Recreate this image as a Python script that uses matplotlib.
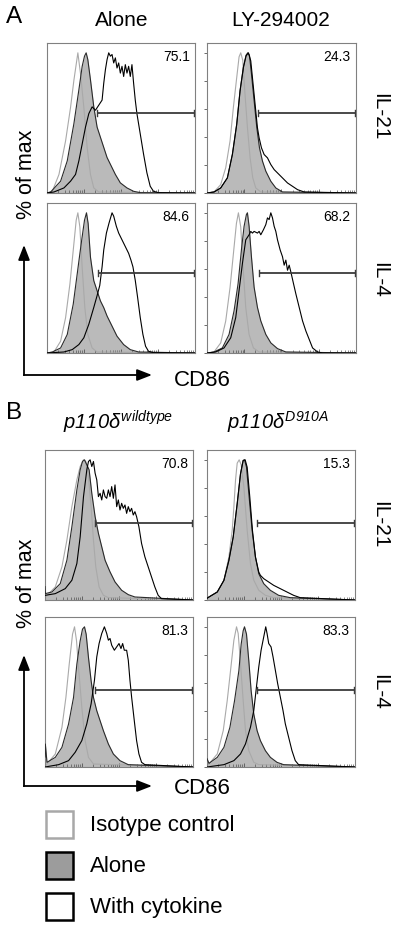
import numpy as np
import matplotlib
matplotlib.use("Agg")
import matplotlib.pyplot as plt
from matplotlib.patches import Rectangle

plt.rcParams['font.family'] = ['Liberation Sans', 'DejaVu Sans']
plt.rcParams['mathtext.fontset'] = 'custom'
plt.rcParams['mathtext.it'] = 'Liberation Sans:italic'
plt.rcParams['mathtext.rm'] = 'Liberation Sans:italic'

# ---------------- data (CD86 channel, event counts) ----------------
# Panel A, column "Alone", row IL-21
A_alone_IL21_iso_x = [0, 16, 36, 56, 71, 81, 93, 101, 111, 121, 131, 141, 156, 446]
A_alone_IL21_iso_y = [0, 5, 55, 155, 255, 335, 417, 355, 255, 135, 55, 15, 3, 0]
A_alone_IL21_alone_x = [0, 11, 41, 61, 81, 96, 106, 113, 118, 123, 131, 141, 151, 161, 171, 181, 191, 206, 221, 241, 261, 281, 446]
A_alone_IL21_alone_y = [0, 3, 35, 95, 205, 305, 375, 405, 415, 395, 335, 255, 195, 165, 135, 105, 85, 55, 30, 15, 5, 1, 0]
A_alone_IL21_cyto_x = [0, 21, 51, 71, 86, 96, 106, 116, 126, 136, 146, 156, 166, 171, 176, 181, 186, 191, 196, 201, 206, 211, 216, 221, 226, 231, 236, 241, 246, 251, 256, 261, 266, 271, 281, 291, 301, 311, 321, 336, 446]
A_alone_IL21_cyto_y = [0, 3, 15, 35, 55, 95, 145, 195, 235, 255, 245, 260, 275, 325, 365, 395, 415, 405, 410, 385, 400, 370, 385, 355, 375, 345, 380, 355, 375, 345, 380, 325, 275, 235, 175, 115, 60, 20, 5, 1, 0]

# Panel A, column "LY-294002", row IL-21
A_LY_IL21_iso_x = [0, 21, 41, 56, 69, 79, 88, 96, 101, 107, 113, 121, 129, 137, 146, 161, 446]
A_LY_IL21_iso_y = [0, 3, 25, 75, 155, 255, 335, 405, 417, 395, 305, 195, 105, 45, 15, 3, 0]
A_LY_IL21_alone_x = [0, 21, 41, 61, 76, 89, 99, 109, 117, 122, 127, 133, 141, 149, 157, 166, 176, 191, 206, 226, 446]
A_LY_IL21_alone_y = [0, 3, 15, 45, 115, 205, 305, 375, 410, 417, 410, 355, 275, 195, 135, 95, 65, 35, 15, 3, 0]
A_LY_IL21_cyto_x = [0, 21, 41, 61, 76, 89, 99, 109, 117, 124, 131, 139, 146, 151, 156, 163, 171, 181, 191, 201, 211, 226, 241, 256, 271, 291, 446]
A_LY_IL21_cyto_y = [0, 3, 15, 45, 115, 205, 305, 375, 410, 419, 395, 315, 245, 195, 165, 135, 115, 105, 85, 70, 60, 45, 30, 20, 10, 3, 0]

# Panel A, column "Alone", row IL-4
A_alone_IL4_iso_x = [0, 21, 41, 56, 69, 79, 88, 93, 99, 106, 114, 123, 136, 151, 446]
A_alone_IL4_iso_y = [0, 3, 35, 105, 205, 305, 395, 417, 375, 255, 135, 55, 15, 3, 0]
A_alone_IL4_alone_x = [0, 16, 41, 61, 79, 91, 103, 113, 119, 124, 131, 141, 151, 161, 171, 181, 196, 211, 231, 251, 276, 446]
A_alone_IL4_alone_y = [0, 3, 15, 55, 145, 235, 325, 395, 417, 385, 285, 215, 185, 155, 135, 110, 80, 50, 25, 10, 3, 0]
A_alone_IL4_cyto_x = [0, 51, 76, 96, 111, 126, 141, 151, 159, 166, 171, 179, 187, 196, 201, 209, 216, 226, 236, 246, 253, 259, 266, 273, 281, 289, 297, 306, 321, 446]
A_alone_IL4_cyto_y = [0, 3, 10, 25, 45, 85, 135, 170, 200, 255, 305, 355, 385, 415, 405, 375, 355, 335, 315, 295, 275, 255, 215, 165, 105, 55, 20, 5, 1, 0]

# Panel A, column "LY-294002", row IL-4
A_LY_IL4_iso_x = [0, 21, 41, 56, 69, 79, 88, 94, 101, 108, 116, 126, 139, 156, 446]
A_LY_IL4_iso_y = [0, 3, 30, 95, 195, 295, 385, 417, 375, 255, 135, 55, 15, 3, 0]
A_LY_IL4_alone_x = [0, 21, 46, 66, 81, 93, 103, 111, 118, 121, 126, 133, 141, 151, 161, 176, 191, 211, 236, 446]
A_LY_IL4_alone_y = [0, 3, 15, 55, 125, 205, 305, 375, 410, 415, 375, 285, 195, 135, 95, 55, 30, 13, 3, 0]
A_LY_IL4_cyto_x = [0, 26, 51, 71, 86, 96, 106, 116, 126, 131, 136, 141, 151, 156, 161, 169, 176, 181, 186, 191, 196, 201, 206, 211, 219, 226, 231, 236, 241, 246, 251, 259, 266, 276, 286, 296, 306, 316, 331, 346, 446]
A_LY_IL4_cyto_y = [0, 3, 15, 45, 105, 185, 265, 335, 350, 360, 355, 360, 355, 360, 350, 365, 380, 400, 395, 415, 400, 375, 360, 335, 305, 285, 260, 275, 245, 260, 240, 205, 175, 135, 95, 65, 40, 15, 3, 0, 0]

# Panel B, column p110d wildtype, row IL-21
B_wt_IL21_iso_x = [0, 6, 31, 51, 66, 81, 96, 106, 116, 123, 131, 139, 146, 153, 163, 176, 191, 446]
B_wt_IL21_iso_y = [10, 14, 39, 99, 179, 279, 359, 399, 419, 414, 369, 279, 179, 99, 39, 14, 7, 0]
B_wt_IL21_alone_x = [0, 1, 21, 46, 66, 81, 96, 106, 113, 119, 126, 133, 141, 151, 161, 171, 181, 196, 211, 231, 251, 271, 446]
B_wt_IL21_alone_y = [40, 19, 24, 49, 119, 219, 329, 389, 414, 419, 404, 389, 319, 249, 199, 159, 119, 84, 54, 29, 16, 9, 0]
B_wt_IL21_cyto_x = [0, 1, 31, 61, 81, 96, 106, 116, 126, 131, 136, 141, 146, 151, 156, 161, 166, 171, 176, 181, 186, 191, 196, 201, 206, 211, 216, 221, 226, 231, 236, 241, 246, 251, 256, 261, 266, 271, 276, 283, 291, 301, 311, 321, 331, 341, 351, 446]
B_wt_IL21_cyto_y = [14, 14, 19, 34, 59, 109, 189, 309, 389, 414, 419, 399, 414, 379, 359, 309, 319, 299, 329, 309, 304, 329, 309, 339, 304, 344, 279, 299, 269, 289, 274, 284, 259, 279, 264, 274, 254, 264, 249, 219, 169, 129, 99, 69, 39, 14, 4, 0]

# Panel B, column p110d D910A, row IL-21
B_D910A_IL21_iso_x = [0, 6, 31, 51, 66, 76, 81, 86, 91, 97, 103, 111, 121, 131, 141, 156, 176, 201, 446]
B_D910A_IL21_iso_y = [5, 9, 24, 59, 129, 209, 279, 359, 409, 419, 404, 339, 209, 109, 59, 29, 14, 7, 0]
B_D910A_IL21_alone_x = [0, 6, 31, 51, 66, 79, 91, 101, 109, 113, 119, 127, 136, 146, 156, 171, 191, 216, 251, 446]
B_D910A_IL21_alone_y = [5, 9, 24, 59, 119, 189, 289, 379, 419, 421, 399, 309, 209, 129, 79, 49, 29, 14, 7, 0]
B_D910A_IL21_cyto_x = [0, 6, 31, 51, 66, 79, 91, 101, 109, 115, 121, 129, 137, 146, 156, 161, 171, 186, 201, 221, 241, 261, 281, 446]
B_D910A_IL21_cyto_y = [5, 9, 24, 59, 119, 189, 289, 379, 419, 421, 399, 309, 209, 129, 84, 74, 64, 54, 44, 34, 24, 14, 7, 0]

# Panel B, column p110d wildtype, row IL-4
B_wt_IL4_iso_x = [0, 6, 31, 51, 63, 73, 83, 89, 95, 101, 111, 121, 131, 146, 446]
B_wt_IL4_iso_y = [5, 9, 39, 119, 209, 309, 399, 421, 379, 299, 179, 79, 29, 9, 0]
B_wt_IL4_alone_x = [0, 1, 6, 31, 51, 71, 86, 96, 106, 113, 119, 124, 131, 139, 146, 156, 166, 176, 191, 206, 226, 251, 446]
B_wt_IL4_alone_y = [30, 69, 14, 29, 59, 129, 209, 309, 379, 414, 421, 399, 329, 259, 209, 169, 139, 109, 69, 39, 19, 7, 0]
B_wt_IL4_cyto_x = [0, 41, 71, 91, 111, 126, 139, 149, 156, 163, 171, 179, 186, 191, 196, 201, 209, 216, 223, 229, 234, 239, 246, 251, 256, 261, 269, 276, 283, 291, 301, 446]
B_wt_IL4_cyto_y = [0, 7, 19, 44, 79, 129, 189, 259, 329, 369, 399, 419, 399, 379, 384, 364, 349, 359, 369, 354, 369, 349, 349, 319, 259, 209, 139, 79, 39, 14, 7, 0]

# Panel B, column p110d D910A, row IL-4
B_D910A_IL4_iso_x = [0, 6, 31, 49, 61, 71, 81, 89, 94, 101, 109, 116, 126, 141, 156, 446]
B_D910A_IL4_iso_y = [5, 9, 39, 109, 199, 289, 379, 419, 399, 309, 199, 109, 49, 14, 7, 0]
B_D910A_IL4_alone_x = [0, 6, 31, 51, 69, 83, 96, 103, 109, 113, 119, 126, 133, 141, 151, 161, 176, 191, 211, 231, 446]
B_D910A_IL4_alone_y = [25, 11, 29, 59, 119, 199, 289, 369, 409, 421, 399, 319, 229, 159, 109, 79, 49, 29, 14, 7, 0]
B_D910A_IL4_cyto_x = [0, 51, 81, 101, 116, 131, 141, 149, 156, 163, 171, 177, 181, 186, 193, 199, 206, 213, 221, 229, 236, 246, 256, 266, 276, 446]
B_D910A_IL4_cyto_y = [0, 7, 19, 39, 69, 119, 169, 239, 299, 349, 389, 419, 399, 369, 359, 329, 289, 249, 209, 169, 129, 89, 49, 19, 7, 0]

# gates: (left channel, right channel, level in % of max) and percentages
gate_left = [151, 154, 154, 156, 151, 151, 151, 151]
gate_right = [443, 443, 443, 443, 443, 443, 443, 443]
gate_level = [57, 57, 57, 57, 55, 55, 55, 55]
gate_percent = ['75.1', '24.3', '84.6', '68.2', '70.8', '15.3', '81.3', '83.3']

column_labels_A = ['Alone', 'LY-294002']
column_labels_B = [r'$p110\delta^{wildtype}$', r'$p110\delta^{D910A}$']
row_labels = ['IL-21', 'IL-4']
legend_labels = ['Isotype control', 'Alone', 'With cytokine']

# ---------------- figure ----------------
W, H = 400, 926
fig = plt.figure(figsize=(W / 100, H / 100), dpi=100)
fig.patch.set_facecolor('white')

ISO_C = '#a9a9a9'
FILL_C = '#bababa'
EDGE_C = '#2a2a2a'
CYTO_C = '#000000'
SPINE_C = '#808080'

panels = [
    (A_alone_IL21_iso_x, A_alone_IL21_iso_y, A_alone_IL21_alone_x, A_alone_IL21_alone_y, A_alone_IL21_cyto_x, A_alone_IL21_cyto_y),
    (A_LY_IL21_iso_x, A_LY_IL21_iso_y, A_LY_IL21_alone_x, A_LY_IL21_alone_y, A_LY_IL21_cyto_x, A_LY_IL21_cyto_y),
    (A_alone_IL4_iso_x, A_alone_IL4_iso_y, A_alone_IL4_alone_x, A_alone_IL4_alone_y, A_alone_IL4_cyto_x, A_alone_IL4_cyto_y),
    (A_LY_IL4_iso_x, A_LY_IL4_iso_y, A_LY_IL4_alone_x, A_LY_IL4_alone_y, A_LY_IL4_cyto_x, A_LY_IL4_cyto_y),
    (B_wt_IL21_iso_x, B_wt_IL21_iso_y, B_wt_IL21_alone_x, B_wt_IL21_alone_y, B_wt_IL21_cyto_x, B_wt_IL21_cyto_y),
    (B_D910A_IL21_iso_x, B_D910A_IL21_iso_y, B_D910A_IL21_alone_x, B_D910A_IL21_alone_y, B_D910A_IL21_cyto_x, B_D910A_IL21_cyto_y),
    (B_wt_IL4_iso_x, B_wt_IL4_iso_y, B_wt_IL4_alone_x, B_wt_IL4_alone_y, B_wt_IL4_cyto_x, B_wt_IL4_cyto_y),
    (B_D910A_IL4_iso_x, B_D910A_IL4_iso_y, B_D910A_IL4_alone_x, B_D910A_IL4_alone_y, B_D910A_IL4_cyto_x, B_D910A_IL4_cyto_y),
]

# pixel boxes (left, top, right, bottom)
boxes = [
    (47, 43, 195, 193), (207, 43, 356, 193),
    (47, 203, 195, 353), (207, 203, 356, 353),
    (45, 450, 193, 600), (207, 450, 355, 600),
    (45, 617, 193, 767), (207, 617, 355, 767),
]

XMAX = 446
DEC = XMAX / 4.0
YMAX = 107

major = [d * DEC for d in range(5)]
minor = [(d + np.log10(k)) * DEC for d in range(4) for k in range(2, 10)]


def pct(v):
    v = np.asarray(v, float)
    return v / v.max() * 100


for i, (box, data) in enumerate(zip(boxes, panels)):
    l, t, r, b = box
    ax = fig.add_axes([l / W, 1 - b / H, (r - l) / W, (b - t) / H])
    ix, iy, ax_, ay, cx, cy = data
    ax.fill_between(ax_, pct(ay), 0, color=FILL_C, lw=0, zorder=1)
    ax.plot(ix, pct(iy), color=ISO_C, lw=0.8, zorder=2)
    ax.plot(ax_, pct(ay), color=EDGE_C, lw=0.8, zorder=3)
    ax.plot(cx, pct(cy), color=CYTO_C, lw=0.8, zorder=4)
    # gate bar
    g0, g1, gy = gate_left[i], gate_right[i], gate_level[i]
    ax.plot([g0, g1], [gy, gy], color='#3a3a3a', lw=1.3, zorder=5, solid_capstyle='butt')
    for gx in (g0, g1):
        ax.plot([gx, gx], [gy - 2.2, gy + 2.2], color='#3a3a3a', lw=1.0, zorder=5)
    ax.text(0.965, 0.955, gate_percent[i], transform=ax.transAxes, ha='right', va='top',
            fontsize=10, color='black')
    ax.set_xlim(0, XMAX)
    ax.set_ylim(0, YMAX)
    ax.set_xticks(major)
    ax.set_xticks(minor, minor=True)
    ax.tick_params(axis='x', which='major', direction='in', length=3, width=0.6, color='#555',
                   labelbottom=False)
    ax.tick_params(axis='x', which='minor', direction='in', length=2, width=0.5, color='#555')
    if i % 2 == 1:
        ax.set_yticks([0, 20, 40, 60, 80, 100])
        ax.tick_params(axis='y', direction='out', length=2, width=0.6, color='#555', labelleft=False)
    else:
        ax.set_yticks([])
    for s in ax.spines.values():
        s.set_color(SPINE_C)
        s.set_linewidth(0.8)

# overlay for annotations
ov = fig.add_axes([0, 0, 1, 1], zorder=10)
ov.set_xlim(0, W)
ov.set_ylim(H, 0)
ov.axis('off')

ov.text(14, 17, 'A', fontsize=17.5, ha='center', va='center')
ov.text(14, 413, 'B', fontsize=17.5, ha='center', va='center')
ov.text(122, 20, column_labels_A[0], fontsize=15, ha='center', va='center')
ov.text(281, 20, column_labels_A[1], fontsize=15, ha='center', va='center')
ov.text(118, 422, column_labels_B[0], fontsize=14.5, ha='center', va='center')
ov.text(278, 422, column_labels_B[1], fontsize=14.5, ha='center', va='center')

for yc, lab in zip([117, 280, 525, 692], row_labels * 2):
    ov.text(380, yc, lab, fontsize=15, rotation=-90, ha='center', va='center')

for yc in (174, 583):
    ov.text(27, yc, '% of max', fontsize=15.5, rotation=90, ha='center', va='center')

for (ytop, ycorner, ycd) in ((245, 375, 380), (655, 786, 789)):
    ov.plot([24, 24], [ycorner, ytop + 8], color='black', lw=1.3)
    ov.plot([24, 144], [ycorner, ycorner], color='black', lw=1.3)
    ov.annotate('', xy=(24, ytop), xytext=(24, ytop + 10),
                arrowprops=dict(arrowstyle='-|>,head_length=0.9,head_width=0.35', lw=1.3, color='black',
                                shrinkA=0, shrinkB=0))
    ov.annotate('', xy=(152, ycorner), xytext=(142, ycorner),
                arrowprops=dict(arrowstyle='-|>,head_length=0.9,head_width=0.35', lw=1.3, color='black',
                                shrinkA=0, shrinkB=0))
    ov.text(202, ycd, 'CD86', fontsize=16, ha='center', va='center')

# legend
leg_styles = [('white', '#a8a8a8'), ('#9c9c9c', 'black'), ('white', 'black')]
leg_y = [811, 852, 893]
for (fc, ec), yt, lab in zip(leg_styles, leg_y, legend_labels):
    ov.add_patch(Rectangle((46, yt), 27, 27, facecolor=fc, edgecolor=ec, lw=1.8))
    ov.text(90, yt + 14, lab, fontsize=16, ha='left', va='center')

fig.savefig('out.png', dpi=100, facecolor='white')
